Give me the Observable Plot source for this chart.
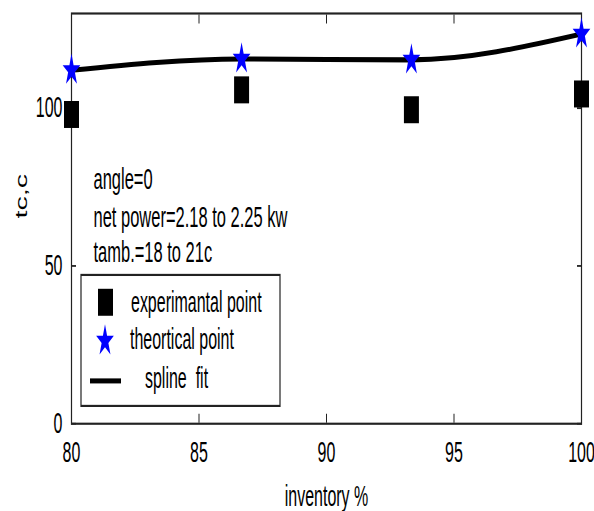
<!DOCTYPE html>
<html><head><meta charset="utf-8">
<script src="https://cdn.jsdelivr.net/npm/d3@7"></script>
<script src="https://cdn.jsdelivr.net/npm/@observablehq/plot@0.6"></script>
<style>html,body{margin:0;padding:0;background:#fff;} #chart{width:594px;height:511px;overflow:hidden}</style>
</head><body><div id="chart"></div>
<script>
const inventory = [80, 86.67, 93.33, 100];
const experimental = [98, 105.8, 99.5, 104.5];
const theoretical = [112, 115.6, 115.3, 123.5];
const xTicks = [80, 85, 90, 95, 100];
const yTicks = [0, 50, 100];
const notes = ["angle=0", "net power=2.18 to 2.25 kw", "tamb.=18 to 21c"];
const legendLabels = ["experimantal point", "theortical point", "spline  fit"];
const xLabel = "inventory %";
const yLabel = "tc,c";

const W = 594, H = 511, S = 1.8; // the reference is stretched vertically
const h = Math.round(H / S);
const FONT = "'Liberation Sans', Arial, sans-serif";

const squareSym = {draw(ctx) { ctx.rect(-7.5, -7.5, 15, 15); }};
const starSym = {draw(ctx) {
  const R = 9.3, r = R * 0.382;
  for (let i = 0; i < 10; i++) {
    const a = -Math.PI / 2 + i * Math.PI / 5, rr = i % 2 ? r : R;
    const x = rr * Math.cos(a), y = rr * Math.sin(a);
    if (i) ctx.lineTo(x, y); else ctx.moveTo(x, y);
  }
  ctx.closePath();
}};

const expData = inventory.map((x, i) => ({x, y: experimental[i]}));
const thData = inventory.map((x, i) => ({x, y: theoretical[i]}));
const noteDy = [92, 113.6, 133];

const plot = Plot.plot({
  width: W, height: h,
  marginLeft: 71, marginRight: 13, marginTop: 7, marginBottom: h - 235,
  x: {domain: [80, 100]},
  y: {domain: [0, 130]},
  style: {fontFamily: FONT, fontSize: "16px", color: "#000", background: "#fff"},
  marks: [
    Plot.frame({stroke: "#222", strokeWidth: 1.2}),
    Plot.axisX(xTicks, {tickSize: 0, tickPadding: 10, label: null, fontSize: 16}),
    Plot.axisX(xTicks.slice(1, -1), {tickSize: -5, tickFormat: () => "", label: null, stroke: "#222"}),
    Plot.axisX(xTicks.slice(1, -1), {anchor: "top", tickSize: -5, tickFormat: () => "", label: null, stroke: "#222"}),
    Plot.axisY(yTicks, {tickSize: 0, tickPadding: 9, label: null, fontSize: 16}),
    Plot.axisY(yTicks, {tickSize: -5, tickFormat: () => "", label: null, stroke: "#222"}),
    Plot.axisY(yTicks, {anchor: "right", tickSize: -5, tickFormat: () => "", label: null, stroke: "#222"}),
    Plot.line(thData, {x: "x", y: "y", curve: "monotone-x", stroke: "#000", strokeWidth: 2.8}),
    Plot.dot(expData, {x: "x", y: "y", symbol: squareSym, fill: "#000", stroke: null}),
    Plot.dot(thData, {x: "x", y: "y", symbol: starSym, fill: "#0000ff", stroke: null}),
    ...notes.map((t, i) => Plot.text([t], {text: d => d, frameAnchor: "top-left", dx: 22, dy: noteDy[i], textAnchor: "start", lineAnchor: "middle", fontSize: 16.5})),
    Plot.text([xLabel], {text: d => d, frameAnchor: "bottom", dy: 40.5, lineAnchor: "middle", fontSize: 16}),
    Plot.text([yLabel], {text: d => d, frameAnchor: "left", dx: -50, rotate: -90, lineAnchor: "middle", fontSize: 16})
  ]
});

plot.setAttribute("height", H);
plot.setAttribute("preserveAspectRatio", "none");
plot.style.height = H + "px";
plot.style.maxWidth = "none";

// legend
const svg = d3.select(plot);
const lg = svg.append("g").attr("class", "legend").attr("font-family", FONT).attr("font-size", 16).attr("text-anchor", "start");
lg.append("rect").attr("x", 81).attr("y", 152.8).attr("width", 199).attr("height", 72.8)
  .attr("fill", "#fff").attr("stroke", "#222").attr("stroke-width", 1.2);
const pathOf = sym => { const p = d3.path(); sym.draw(p, 64); return p.toString(); };
lg.append("path").attr("d", pathOf(squareSym)).attr("transform", "translate(105.5,168)").attr("fill", "#000");
lg.append("path").attr("d", pathOf(starSym)).attr("transform", "translate(105,189.5)").attr("fill", "#0000ff");
lg.append("line").attr("x1", 90).attr("x2", 121).attr("y1", 211.7).attr("y2", 211.7).attr("stroke", "#000").attr("stroke-width", 2.8);
const lx = [131, 130, 145], ly = [168.3, 189, 210.6];
legendLabels.forEach((t, i) => {
  lg.append("text").attr("x", lx[i]).attr("y", ly[i]).attr("dy", "0.32em").attr("text-anchor", "start").style("white-space", "pre").text(t);
});

document.getElementById("chart").appendChild(plot);
</script>
</body></html>
